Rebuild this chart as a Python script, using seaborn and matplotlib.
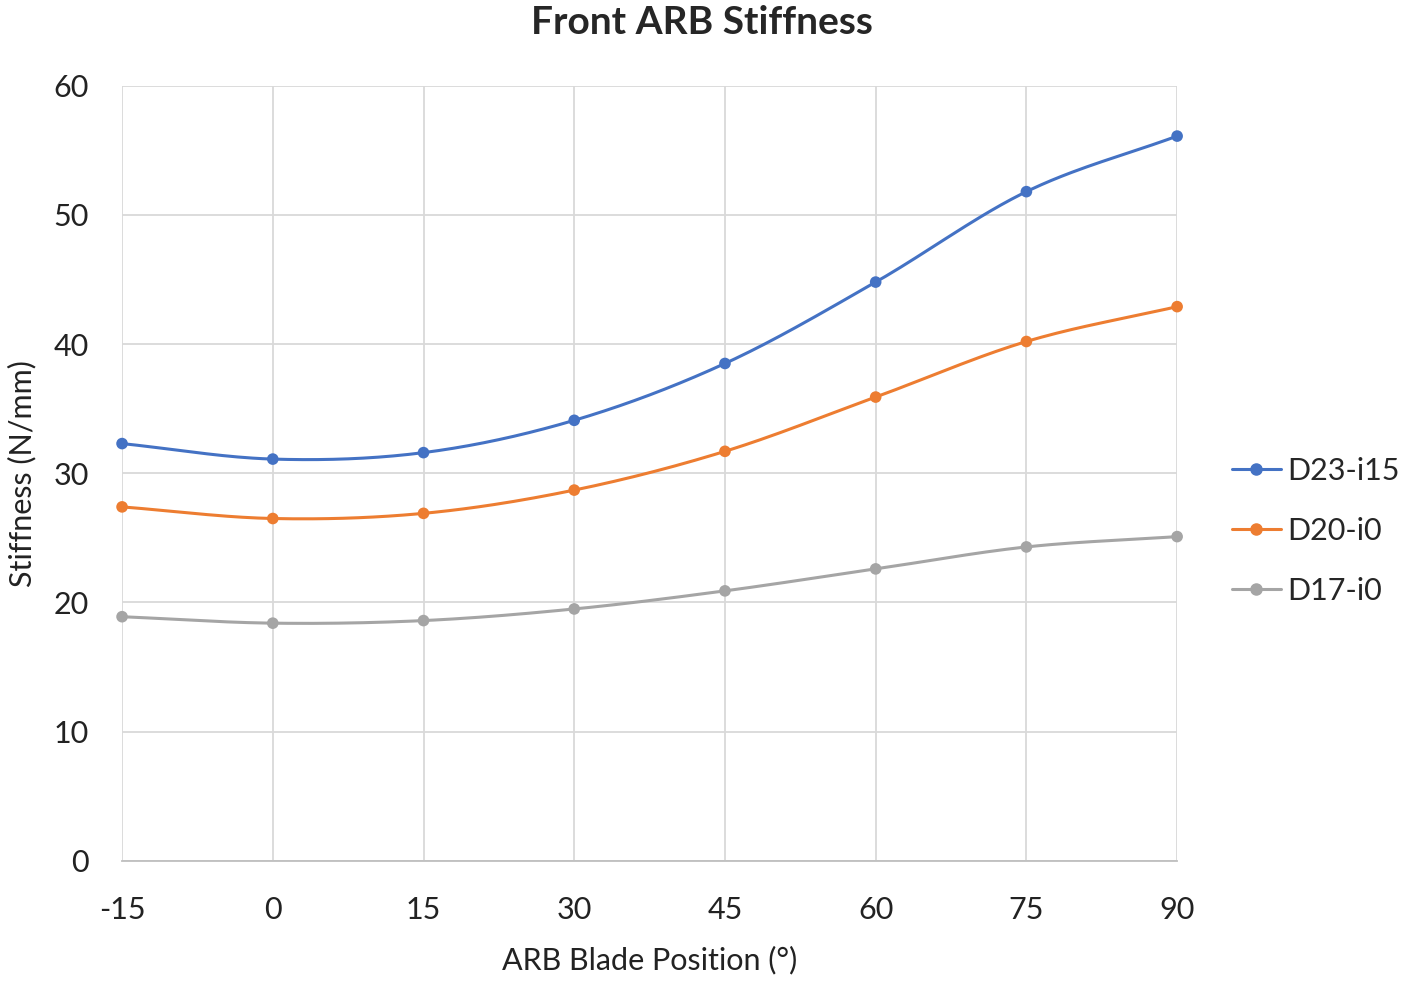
import numpy as np
import pandas as pd
import seaborn as sns
import matplotlib.pyplot as plt

# data
positions = [-15, 0, 15, 30, 45, 60, 75, 90]
d23_i15 = [32.3, 31.1, 31.6, 34.1, 38.5, 44.8, 51.8, 56.1]
d20_i0 = [27.4, 26.5, 26.9, 28.7, 31.7, 35.9, 40.2, 42.9]
d17_i0 = [18.9, 18.4, 18.6, 19.5, 20.9, 22.6, 24.3, 25.1]

series = {'D23-i15': d23_i15, 'D20-i0': d20_i0, 'D17-i0': d17_i0}
colors = {'D23-i15': '#4472C4', 'D20-i0': '#ED7D31', 'D17-i0': '#A5A5A5'}


def smooth(x, y, n=30):
    # Excel-like smoothed line (Catmull-Rom through the points)
    x = np.asarray(x, float)
    y = np.asarray(y, float)
    px = np.concatenate([[2 * x[0] - x[1]], x, [2 * x[-1] - x[-2]]])
    py = np.concatenate([[2 * y[0] - y[1]], y, [2 * y[-1] - y[-2]]])
    xs, ys = [], []
    for i in range(1, len(px) - 2):
        t = np.linspace(0, 1, n, endpoint=False)
        for p, out in ((px, xs), (py, ys)):
            p0, p1, p2, p3 = p[i - 1], p[i], p[i + 1], p[i + 2]
            out.extend(0.5 * ((2 * p1) + (-p0 + p2) * t
                              + (2 * p0 - 5 * p1 + 4 * p2 - p3) * t ** 2
                              + (-p0 + 3 * p1 - 3 * p2 + p3) * t ** 3))
    xs.append(x[-1])
    ys.append(y[-1])
    return np.array(xs), np.array(ys)


df = pd.DataFrame([{'pos': p, 'stiffness': v, 'series': name}
                   for name, vals in series.items() for p, v in zip(positions, vals)])

curves = []
for name, vals in series.items():
    sx, sy = smooth(positions, vals)
    curves.append(pd.DataFrame({'pos': sx, 'stiffness': sy, 'series': name}))
curves = pd.concat(curves)

sns.set_style('white')
plt.rcParams['font.family'] = ['Lato', 'DejaVu Sans']
plt.rcParams['axes.unicode_minus'] = False

fig = plt.figure(figsize=(14.03, 9.85), dpi=100)
ax = fig.add_axes([0.087, 0.126, 0.752, 0.787])

sns.lineplot(data=curves, x='pos', y='stiffness', hue='series', palette=colors,
             linewidth=2.2, legend=False, ax=ax, sort=False, estimator=None)
sns.scatterplot(data=df, x='pos', y='stiffness', hue='series', palette=colors,
                s=70, edgecolor='none', legend=False, ax=ax, zorder=3, clip_on=False)

ax.set_xlim(-15, 90)
ax.set_ylim(0, 60)
ax.set_xticks(positions)
ax.set_yticks(range(0, 61, 10))
ax.grid(True, color='#d9d9d9', linewidth=1.3)
ax.set_axisbelow(True)
for s in ['top', 'right', 'left']:
    ax.spines[s].set_visible(False)
ax.spines['bottom'].set_color('#bfbfbf')
ax.spines['bottom'].set_linewidth(1.3)
ax.tick_params(axis='both', length=0, labelsize=22, colors='#222222')
ax.tick_params(axis='x', pad=25)
ax.tick_params(axis='y', pad=24)

ax.set_xlabel('ARB Blade Position (°)', fontsize=22, color='#222222', labelpad=16)
ax.set_ylabel('Stiffness (N/mm)', fontsize=22, color='#222222', labelpad=12)
fig.suptitle('Front ARB Stiffness', fontsize=28, fontweight='bold', y=0.995)

handles = [plt.Line2D([], [], color=colors[n], marker='o', markersize=8, linewidth=2.2)
           for n in series]
fig.legend(handles, list(series.keys()), loc='center left', bbox_to_anchor=(0.878, 0.461),
           frameon=False, fontsize=22, handlelength=1.6, handletextpad=0.2,
           labelspacing=1.05, borderpad=0, borderaxespad=0)

fig.savefig('out.png', dpi=100)
